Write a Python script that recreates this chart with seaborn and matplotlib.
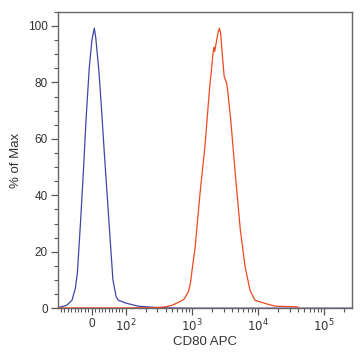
import numpy as np
import pandas as pd
import matplotlib
matplotlib.use('Agg')
import matplotlib.pyplot as plt
import matplotlib.ticker as mticker
import seaborn as sns

# Control (blue) - CD80 APC fluorescence vs % of Max
control_x = [-100, -89, -73.5, -57.7, -48, -42, -32.5, -24.6, -16.7, -7.3, 0.6, 7.6, 11.7, 21.1, 29, 36.9,
             46.4, 52.7, 62.1, 71.6, 77.9, 100, 153, 262, 440, 1000, 5000, 50000, 262144]
control_y = [0.2, 0.5, 1.0, 2.8, 7.0, 12.4, 31.0, 48.0, 66.7, 85.0, 95.0, 99.2, 96.0, 84.0, 70.0, 55.0,
             38.0, 26.6, 10.0, 4.0, 2.8, 1.8, 0.7, 0.3, 0.1, 0.0, 0.0, 0.0, 0.0]

# CD80 stained sample (red)
stained_x = [-100, 0, 100, 300, 398, 498, 618, 763, 888, 946, 1118, 1323, 1566, 1854, 1963, 2072, 2143,
             2208, 2323, 2468, 2595, 2713, 2872, 3073, 3320, 3434, 3855, 4558, 5389, 6372, 7534, 8950,
             12680, 18070, 36700, 41200]
stained_y = [0.1, 0.1, 0.1, 0.2, 0.5, 1.0, 2.0, 3.2, 6.0, 8.9, 21.7, 40.7, 57.0, 78.5, 84.0, 90.0, 92.5,
             91.0, 94.0, 97.5, 99.2, 97.5, 90.0, 82.0, 80.0, 78.0, 66.7, 46.6, 27.7, 14.6, 6.4, 2.8,
             1.7, 0.7, 0.5, 0.3]

sns.set_style('ticks')
plt.rcParams['font.family'] = ['Liberation Sans', 'DejaVu Sans']

fig = plt.figure(figsize=(3.62, 3.60), dpi=100)
ax = fig.add_axes([0.159, 0.144, 0.813, 0.823])

sns.lineplot(x=control_x, y=control_y, ax=ax, color='#4046a8', linewidth=0.9,
             sort=False, estimator=None)
sns.lineplot(x=stained_x, y=stained_y, ax=ax, color='#f2471f', linewidth=0.9,
             sort=False, estimator=None)

ax.set_xscale('symlog', linthresh=100, linscale=0.465)
ax.set_xlim(-100, 262144)
ax.set_ylim(0, 105)

major = [0, 1e2, 1e3, 1e4, 1e5]
ax.xaxis.set_major_locator(mticker.FixedLocator(major))
ax.xaxis.set_major_formatter(mticker.FixedFormatter(['0', r'$10^2$', r'$10^3$', r'$10^4$', r'$10^5$']))
minor = list(range(-90, 0, 10)) + list(range(10, 100, 10))
for dec in [1e2, 1e3, 1e4, 1e5]:
    minor += [dec * k for k in range(2, 10) if dec * k < 262144]
ax.xaxis.set_minor_locator(mticker.FixedLocator(minor))

ax.yaxis.set_major_locator(mticker.MultipleLocator(20))
ax.yaxis.set_minor_locator(mticker.MultipleLocator(5))

ax.set_xlabel('CD80 APC', fontsize=9.5, color='#333333', labelpad=1)
ax.set_ylabel('% of Max', fontsize=9.5, color='#333333', labelpad=4)

for s in ax.spines.values():
    s.set_color('#666666')
    s.set_linewidth(1.0)
ax.tick_params(which='major', length=5, width=0.9, color='#555555', labelsize=8.5, labelcolor='#333333', pad=2)
ax.tick_params(which='minor', length=3, width=0.8, color='#555555')

fig.savefig('out.png', dpi=100)
